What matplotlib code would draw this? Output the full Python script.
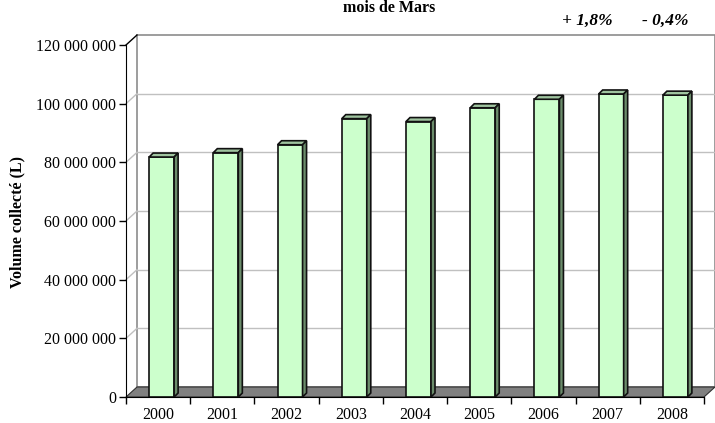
import numpy as np
import matplotlib
matplotlib.use("Agg")
import matplotlib.pyplot as plt
from matplotlib.patches import Polygon, Rectangle
from matplotlib.ticker import FuncFormatter

years = ["2000", "2001", "2002", "2003", "2004", "2005", "2006", "2007", "2008"]
volumes = [81.8e6, 83.3e6, 86.0e6, 94.9e6, 93.9e6, 98.6e6, 101.5e6, 103.3e6, 102.9e6]
y_ticks = [0, 20e6, 40e6, 60e6, 80e6, 100e6, 120e6]
changes = ["+ 1,8%", "- 0,4%"]

plt.rcParams['font.family'] = ['Liberation Serif', 'DejaVu Serif']

W, H = 715, 423
fig = plt.figure(figsize=(W / 100, H / 100), dpi=100)
fig.patch.set_facecolor('white')

left, right, bottom, top = 126, 704, 397, 45
ax = fig.add_axes([left / W, 1 - bottom / H, (right - left) / W, (bottom - top) / H])
ax.set_xlim(-0.5, len(years) - 0.5)
ax.set_ylim(0, 120e6)
ax.patch.set_visible(False)

# pixel -> data unit conversion for the fake 3D depth
px_x = (len(years)) / (right - left)
px_y = 120e6 / (bottom - top)

def depth(dx_px, dy_px):
    return dx_px * px_x, dy_px * px_y

wx, wy = depth(11, 10)   # back wall offset
x0, x1 = -0.5, len(years) - 0.5

# back wall
ax.add_patch(Rectangle((x0 + wx, wy), x1 - x0, 120e6, facecolor='white',
                       edgecolor='#8c8c8c', lw=1.2, clip_on=False, zorder=0))
# gridlines on back wall and side wall
for v in y_ticks[1:-1]:
    ax.plot([x0 + wx, x1 + wx], [v + wy, v + wy], color='#c0c0c0', lw=1, clip_on=False, zorder=1)
    ax.plot([x0, x0 + wx], [v, v + wy], color='#c0c0c0', lw=1, clip_on=False, zorder=1)
ax.plot([x0, x0 + wx], [120e6, 120e6 + wy], color='black', lw=1, clip_on=False, zorder=1)

# floor
ax.add_patch(Polygon([(x0, 0), (x1, 0), (x1 + wx, wy), (x0 + wx, wy)], closed=True,
                     facecolor='#808080', edgecolor='#303030', lw=0.8, clip_on=False, zorder=1))

# bars (front face + top + side)
bw = 25 * px_x
shift = 3.5 * px_x
bdx, bdy = depth(4, 4)
for i, v in enumerate(volumes):
    xl = i + shift - bw / 2
    xr = xl + bw
    ax.bar(i + shift, v, width=bw, bottom=0, color='#ccffcc', edgecolor='#111111',
           lw=1.2, zorder=3)
    ax.add_patch(Polygon([(xl, v), (xr, v), (xr + bdx, v + bdy), (xl + bdx, v + bdy)],
                         closed=True, facecolor='#9fc49f', edgecolor='#111111', lw=1.2, zorder=3))
    ax.add_patch(Polygon([(xr, 0), (xr, v), (xr + bdx, v + bdy), (xr + bdx, bdy)],
                         closed=True, facecolor='#6b8c6b', edgecolor='#111111', lw=1.2, zorder=3))

# axes styling
for s in ['top', 'right']:
    ax.spines[s].set_visible(False)
ax.spines['left'].set_color('black')
ax.spines['bottom'].set_color('black')
ax.spines['left'].set_zorder(4)
ax.spines['bottom'].set_zorder(4)

ax.set_yticks(y_ticks)
ax.yaxis.set_major_formatter(FuncFormatter(lambda v, p: f"{int(v):,}".replace(",", " ")))
ax.tick_params(axis='y', direction='out', length=5, width=1, labelsize=11.5, pad=2)

ax.set_xticks(range(len(years)))
ax.set_xticklabels(years)
ax.set_xticks(np.arange(-0.5, len(years)), minor=True)
ax.tick_params(axis='x', which='major', length=0, labelsize=11.5, pad=7)
ax.tick_params(axis='x', which='minor', direction='out', length=5, width=1)

fig.text(17 / W, 1 - 222 / H, "Volume collecté (L)", rotation=90, ha='center', va='center',
         fontsize=11.5, fontweight='bold')

# title (cut at the top edge in the original; kept fully visible here)
fig.text(389 / W, 1 - 12.5 / H, "mois de Mars", ha='center', va='baseline',
         fontsize=11.5, fontweight='bold')

fig.text(587 / W, 1 - 25 / H, changes[0], ha='center', va='baseline',
         fontsize=12.5, fontweight='bold', style='italic')
fig.text(665 / W, 1 - 25 / H, changes[1], ha='center', va='baseline',
         fontsize=12.5, fontweight='bold', style='italic')

fig.savefig("out.png", dpi=100, facecolor='white')
